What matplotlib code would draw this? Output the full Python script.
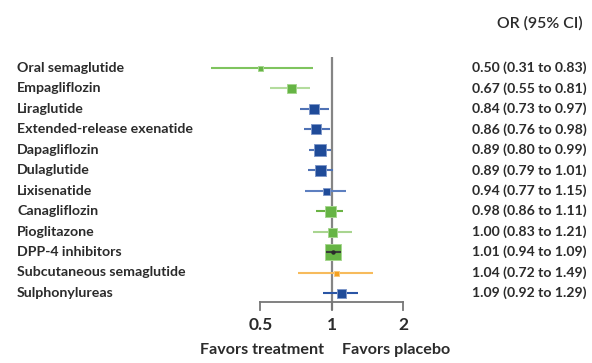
import numpy as np
import matplotlib
matplotlib.use("Agg")
import matplotlib.pyplot as plt
from matplotlib.transforms import blended_transform_factory

plt.rcParams['font.family'] = ['Lato', 'DejaVu Sans']

drugs = ["Oral semaglutide", "Empagliflozin", "Liraglutide",
         "Extended-release exenatide", "Dapagliflozin", "Dulaglutide",
         "Lixisenatide", "Canagliflozin", "Pioglitazone", "DPP-4 inhibitors",
         "Subcutaneous semaglutide", "Sulphonylureas"]
odds_ratio = [0.50, 0.67, 0.84, 0.86, 0.89, 0.89, 0.94, 0.98, 1.00, 1.01, 1.04, 1.09]
ci_low = [0.31, 0.55, 0.73, 0.76, 0.80, 0.79, 0.77, 0.86, 0.83, 0.94, 0.72, 0.92]
ci_high = [0.83, 0.81, 0.97, 0.98, 0.99, 1.01, 1.15, 1.11, 1.21, 1.09, 1.49, 1.29]
weight_px = [5, 9, 10, 10, 12, 11, 7, 11, 9, 16, 5, 9]
drug_class = ["green", "green", "blue", "blue", "blue", "blue",
              "blue", "green", "green", "green", "orange", "blue"]
tick_values = [0.5, 1, 2]
tick_labels = ["0.5", "1", "2"]

box_colors = {"green": "#66b445", "blue": "#1f4b99", "orange": "#f5a01e"}
edge_colors = {"green": "#a6d68f", "blue": "#7f98c9", "orange": "#f9c77a"}
line_colors = ["#7fc45e", "#b3dc9d", "#4f72b5", "#4f72b5", "#4f72b5", "#4f72b5",
               "#5d7fc0", "#6ab344", "#a9d590", "#3a3a3a", "#f7bb5c", "#2a55a5"]

W, H, DPI = 592, 363, 100
fig = plt.figure(figsize=(W / DPI, H / DPI), dpi=DPI)
ax = fig.add_axes([0, 0, 1, 1])
ax.set_xscale("log")

# log2 scale: 1 sits at x=332 px, one doubling spans 71.5 px; rows 20.45 px apart
x0, per_doubling = 332.0, 71.5
ax.set_xlim(2 ** ((0 - x0) / per_doubling), 2 ** ((W - x0) / per_doubling))
y0, row_h = 68.0, 20.45
ax.set_ylim((H - y0) / row_h, (0 - y0) / row_h)
ax.axis("off")

def ypx(p):
    return (p - y0) / row_h

def xpx(p):
    return 2 ** ((p - x0) / per_doubling)

rows = np.arange(len(drugs))
txt = "#2b2b2b"

# reference line at OR = 1
ax.plot([1, 1], [ypx(57), ypx(310)], color="#858585", lw=1.6, zorder=1,
        solid_capstyle="butt")

# bottom axis with downward ticks
ax.plot([tick_values[0], tick_values[-1]], [ypx(302), ypx(302)], color="#777777",
        lw=1.3, zorder=1)
for v, lab in zip(tick_values, tick_labels):
    ax.plot([v, v], [ypx(302), ypx(310)], color="#777777", lw=1.3, zorder=1)
    ax.text(v, ypx(325), lab, ha="center", va="center", fontsize=12.5,
            fontweight="bold", color=txt)

ax.text(xpx(324), ypx(350), "Favors treatment", ha="right", va="center",
        fontsize=11.6, fontweight="bold", color=txt)
ax.text(xpx(342), ypx(350), "Favors placebo", ha="left", va="center",
        fontsize=11.6, fontweight="bold", color=txt)

for i in rows:
    cls = drug_class[i]
    dark_ci = drugs[i] == "DPP-4 inhibitors"
    ax.plot([ci_low[i], ci_high[i]], [i, i], color=line_colors[i], lw=1.5,
            zorder=4 if dark_ci else 2, solid_capstyle="butt")
    ax.plot(odds_ratio[i], i, marker="s", markersize=weight_px[i] * 72 / DPI,
            color=box_colors[cls], markeredgecolor=edge_colors[cls],
            markeredgewidth=0.7, zorder=3)
    if dark_ci:
        ax.plot(odds_ratio[i], i, marker="o", markersize=2.2, color="#2a2a2a",
                zorder=5)

label_tf = blended_transform_factory(ax.transAxes, ax.transData)
for i in rows:
    ax.text(17 / W, i, drugs[i], transform=label_tf, ha="left", va="center",
            fontsize=10.2, fontweight="bold", color=txt)
    ax.text(472 / W, i,
            f"{odds_ratio[i]:.2f} ({ci_low[i]:.2f} to {ci_high[i]:.2f})",
            transform=label_tf, ha="left", va="center", fontsize=10.1,
            fontweight="bold", color=txt)

ax.text(540 / W, ypx(23), "OR (95% CI)", transform=label_tf, ha="center",
        va="center", fontsize=11.4, color=txt, fontweight="semibold")

fig.savefig("out.png", dpi=DPI)
